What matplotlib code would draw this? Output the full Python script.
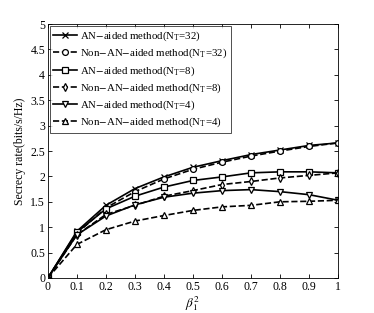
import matplotlib
matplotlib.use('Agg')
import matplotlib.pyplot as plt

plt.rcParams['font.family'] = ['Liberation Serif', 'DejaVu Serif']
plt.rcParams['mathtext.fontset'] = 'stix'

# data
beta = [0, 0.1, 0.2, 0.3, 0.4, 0.5, 0.6, 0.7, 0.8, 0.9, 1.0]
an32 = [0, 0.92, 1.43, 1.76, 1.99, 2.18, 2.31, 2.43, 2.52, 2.61, 2.66]
nonan32 = [0, 0.88, 1.38, 1.70, 1.95, 2.14, 2.28, 2.40, 2.50, 2.59, 2.66]
an8 = [0, 0.90, 1.36, 1.61, 1.79, 1.92, 1.99, 2.07, 2.09, 2.09, 2.07]
nonan8 = [0, 0.85, 1.25, 1.43, 1.61, 1.72, 1.84, 1.90, 1.97, 2.02, 2.07]
an4 = [0, 0.85, 1.22, 1.44, 1.59, 1.67, 1.72, 1.74, 1.70, 1.64, 1.53]
nonan4 = [0, 0.66, 0.95, 1.12, 1.23, 1.33, 1.40, 1.43, 1.50, 1.51, 1.53]

fig = plt.figure(figsize=(3.74, 3.13), dpi=100)
ax = fig.add_axes([0.128, 0.112, 0.776, 0.811])

kw = dict(color='black', lw=1.2, ms=4.2, mfc='white', mew=0.9)
ax.plot(beta, an32, '-', marker='x', label=r'AN$-$aided method(N$_\mathregular{T}$=32)', **kw)
ax.plot(beta, nonan32, '--', marker='o', label=r'Non$-$AN$-$aided method(N$_\mathregular{T}$=32)', **kw)
ax.plot(beta, an8, '-', marker='s', label=r'AN$-$aided method(N$_\mathregular{T}$=8)', **kw)
ax.plot(beta, nonan8, '--', marker='d', label=r'Non$-$AN$-$aided method(N$_\mathregular{T}$=8)', **kw)
ax.plot(beta, an4, '-', marker='v', label=r'AN$-$aided method(N$_\mathregular{T}$=4)', **kw)
ax.plot(beta, nonan4, '--', marker='^', label=r'Non$-$AN$-$aided method(N$_\mathregular{T}$=4)', **kw)

ax.set_xlim(0, 1)
ax.set_ylim(0, 5)
ax.set_xticks(beta)
ax.set_xticklabels(['0', '0.1', '0.2', '0.3', '0.4', '0.5', '0.6', '0.7', '0.8', '0.9', '1'])
ax.set_yticks([0, 0.5, 1, 1.5, 2, 2.5, 3, 3.5, 4, 4.5, 5])
ax.set_yticklabels(['0', '0.5', '1', '1.5', '2', '2.5', '3', '3.5', '4', '4.5', '5'])
ax.tick_params(direction='in', top=True, right=True, labelsize=8.5, length=3, width=0.6, pad=2)
for s in ax.spines.values():
    s.set_linewidth(0.6)

ax.set_xlabel(r'$\beta_1^2$', fontsize=9.5, labelpad=1)
ax.set_ylabel('Secrecy rate(bits/s/Hz)', fontsize=8.5, labelpad=3)

leg = ax.legend(loc='upper left', fontsize=7.8, frameon=True, fancybox=False,
                edgecolor='black', handlelength=2.2, borderpad=0.3, labelspacing=0.35,
                handletextpad=0.3, borderaxespad=0.2)
leg.get_frame().set_linewidth(0.6)

fig.savefig('out.png', dpi=100)
